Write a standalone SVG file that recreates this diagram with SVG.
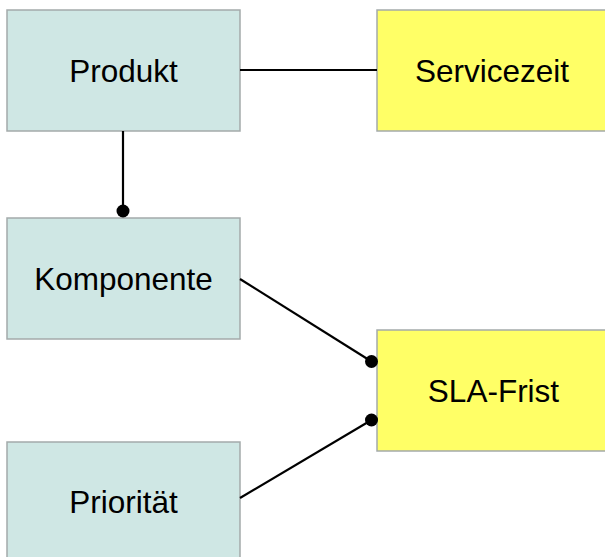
<svg xmlns="http://www.w3.org/2000/svg" width="605" height="557" viewBox="0 0 605 557">
<style>
.b{fill:#CFE7E4;stroke:#A4AAAA;stroke-width:1.5}
.y{fill:#FFFF66;stroke:#A4AAAA;stroke-width:1.5}
text{font-family:"Liberation Sans",Arial,sans-serif;font-size:31.5px;fill:#000;text-anchor:middle}
.c line{stroke:#000;stroke-width:2.2}
.c circle{fill:#000}
</style>
<rect width="605" height="557" fill="#fff"/>
<g id="produkt"><rect class="b" x="7" y="10" width="233" height="121"/><text x="123.5" y="82">Produkt</text></g>
<g id="servicezeit"><rect class="y" x="377" y="10" width="233" height="121"/><text x="492" y="82">Servicezeit</text></g>
<g id="komponente"><rect class="b" x="7" y="218" width="233" height="121"/><text x="123.5" y="290">Komponente</text></g>
<g id="slafrist"><rect class="y" x="377" y="330" width="233" height="121"/><text x="493.5" y="402">SLA-Frist</text></g>
<g id="prioritaet"><rect class="b" x="7" y="442" width="233" height="121"/><text x="123.5" y="513">Priorität</text></g>
<g class="c" id="connectors">
<line x1="240" y1="70" x2="377" y2="70"/>
<line x1="123" y1="131" x2="123" y2="211"/><circle cx="123" cy="211" r="6.5"/>
<line x1="240" y1="279" x2="371.5" y2="361.5"/><circle cx="371.5" cy="361.5" r="6.5"/>
<line x1="240" y1="498" x2="371.5" y2="420"/><circle cx="371.5" cy="420" r="6.5"/>
</g>
</svg>
